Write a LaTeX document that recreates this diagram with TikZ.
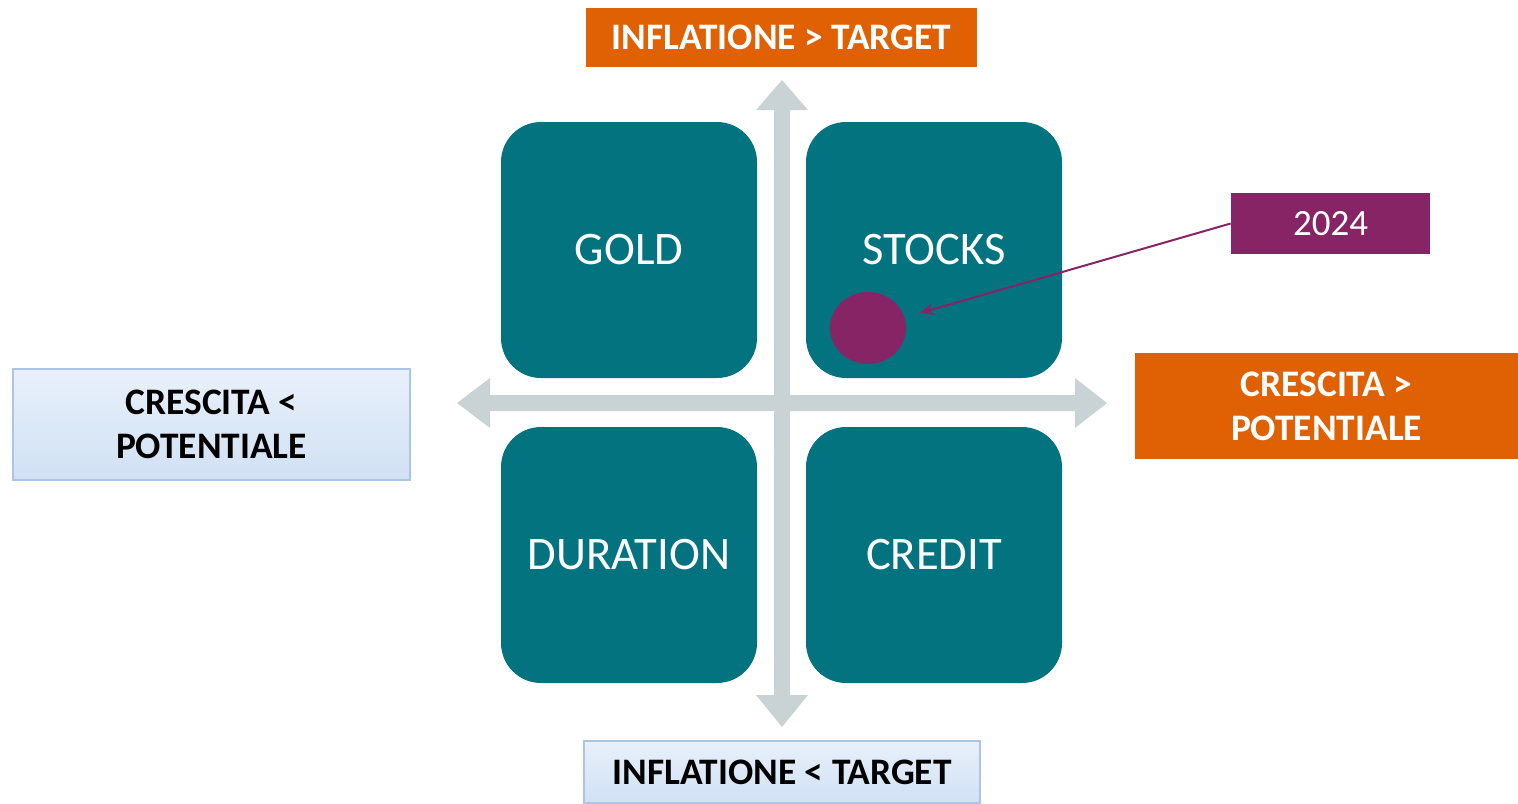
\documentclass[tikz,border=0pt]{standalone}
\usepackage{fontspec}
\setmainfont{Carlito}
\usetikzlibrary{arrows.meta,shapes.geometric}
\definecolor{teal1}{RGB}{3,115,128}
\definecolor{orng}{RGB}{224,96,4}
\definecolor{purp}{RGB}{135,36,101}
\definecolor{axisgray}{RGB}{201,211,214}
\definecolor{lbtop}{RGB}{233,240,250}
\definecolor{lbbot}{RGB}{208,225,244}
\definecolor{lbborder}{RGB}{170,197,232}
\begin{document}
\begin{tikzpicture}[x=0.5pt,y=-0.5pt,
  quad/.style={fill=teal1,rounded corners=20pt,minimum width=128pt,minimum height=128pt,inner sep=0pt,text=white,font=\fontsize{23.3}{28}\selectfont},
  orangebox/.style={fill=orng,text=white,font=\bfseries\fontsize{18.7}{22}\selectfont,inner sep=0pt,align=center},
  bluebox/.style={top color=lbtop,bottom color=lbbot,draw=lbborder,line width=0.6pt,text=black,font=\bfseries\fontsize{18.7}{22}\selectfont,inner sep=0pt,align=center},
  axis/.style={fill=axisgray}]
\useasboundingbox (0,0) rectangle (1518,803);
% axes
\fill[axis] (774,110) -- (756,110) -- (782,80) -- (808,110) -- (790,110) -- (790,695) -- (808,695) -- (782,727) -- (756,695) -- (774,695) -- cycle;
\fill[axis] (490,395) -- (490,378) -- (457,403) -- (490,428) -- (490,411) -- (1075,411) -- (1075,428) -- (1107,403) -- (1075,378) -- (1075,395) -- cycle;
% quadrants
\node[quad] (gold) at (629,250) {GOLD};
\node[quad] (stocks) at (934,250) {STOCKS};
\node[quad] (duration) at (629,555) {DURATION};
\node[quad] (credit) at (934,555) {CREDIT};
% labels
\node[orangebox,minimum width=195.5pt,minimum height=29.5pt] (influp) at (781.5,37.5) {INFLATIONE > TARGET};
\node[bluebox,minimum width=198pt,minimum height=31pt] (infldown) at (782,772) {INFLATIONE < TARGET};
\node[bluebox,minimum width=198.5pt,minimum height=55.5pt] (growdown) at (211.5,424.5) {CRESCITA <\\POTENTIALE};
\node[orangebox,minimum width=191.5pt,minimum height=53pt] (growup) at (1326.5,406) {CRESCITA >\\POTENTIALE};
% 2024 marker
\node[fill=purp,minimum width=99.5pt,minimum height=30.5pt,inner sep=0pt,text=white,font=\fontsize{18.5}{22}\selectfont] (y2024) at (1330.5,223.5) {2024};
\node[fill=purp,ellipse,minimum width=38pt,minimum height=36pt,inner sep=0pt] (dot) at (868,328) {};
\coordinate (tip) at (920,313);
\draw[purp,line width=1pt,-{Stealth[length=7pt,width=6pt]}] (y2024.west) -- (tip);
\end{tikzpicture}
\end{document}
